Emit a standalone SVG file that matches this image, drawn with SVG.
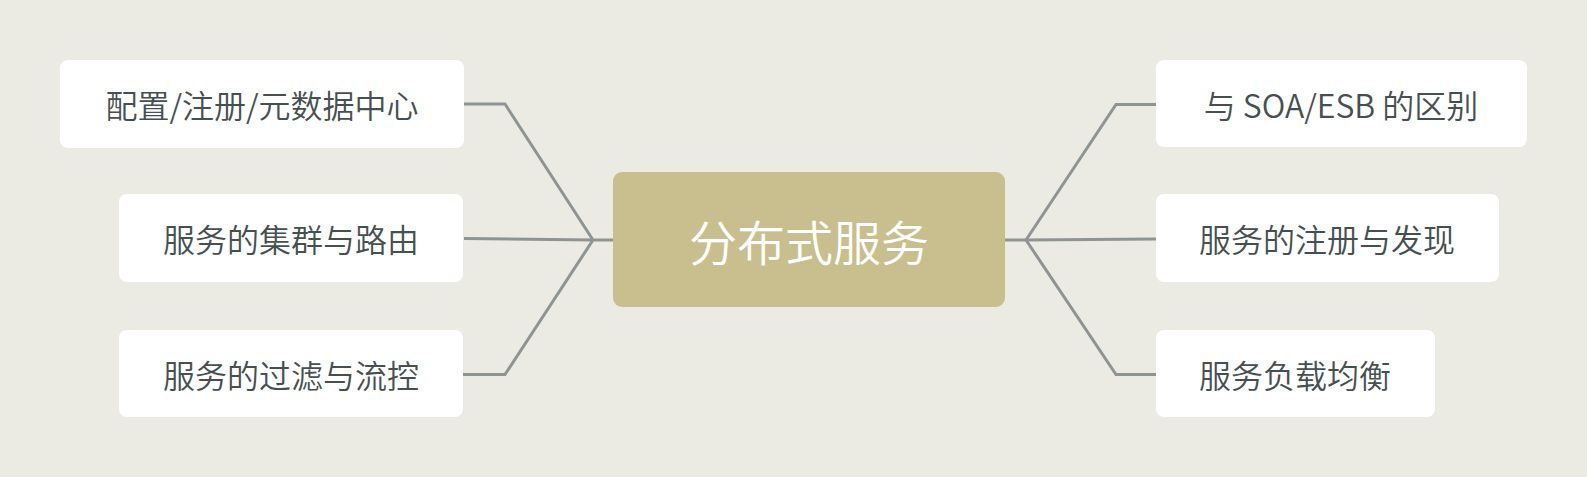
<svg xmlns="http://www.w3.org/2000/svg" width="1587" height="477" viewBox="0 0 1587 477">
<style>
.bg{fill:#ebebe3}
.node rect{fill:#ffffff}
.node text{font-family:"Noto Sans CJK SC","Noto Sans",sans-serif;font-size:32px;font-weight:350;fill:#465051;text-anchor:middle;dominant-baseline:central}
.root rect{fill:#c9bf8e}
.root text{font-family:"Noto Sans CJK SC","Noto Sans",sans-serif;font-size:48px;font-weight:350;fill:#ffffff;text-anchor:middle;dominant-baseline:central}
.conn path{fill:none;stroke:#8e9493;stroke-width:3;stroke-linejoin:miter}
</style>
<rect class="bg" x="0" y="0" width="1587" height="477"/>
<g id="connectors" class="conn">
<path d="M613 240 H593"/>
<path d="M593 240 L505 104 H464"/>
<path d="M593 240 L464 238.5"/>
<path d="M593 240 L505 374.5 H463"/>
<path d="M1005 240 H1026"/>
<path d="M1026 240 L1116 104.5 H1156"/>
<path d="M1026 240 L1156 239"/>
<path d="M1026 240 L1116 374.5 H1156"/>
</g>
<g id="root" class="root">
<rect x="613" y="172" width="392" height="135" rx="9"/>
<text x="809" y="240">分布式服务</text>
</g>
<g id="n1" class="node">
<rect x="60" y="60" width="404" height="88" rx="8"/>
<text x="262" y="104">配置/注册/元数据中心</text>
</g>
<g id="n2" class="node">
<rect x="119" y="194" width="344" height="88" rx="8"/>
<text x="291" y="238">服务的集群与路由</text>
</g>
<g id="n3" class="node">
<rect x="119" y="330" width="344" height="87" rx="8"/>
<text x="291" y="374">服务的过滤与流控</text>
</g>
<g id="n4" class="node">
<rect x="1156" y="60" width="371" height="87" rx="8"/>
<text x="1341" y="104">与 SOA/ESB 的区别</text>
</g>
<g id="n5" class="node">
<rect x="1156" y="194" width="343" height="88" rx="8"/>
<text x="1327" y="238">服务的注册与发现</text>
</g>
<g id="n6" class="node">
<rect x="1156" y="330" width="279" height="87" rx="8"/>
<text x="1295" y="374">服务负载均衡</text>
</g>
</svg>
